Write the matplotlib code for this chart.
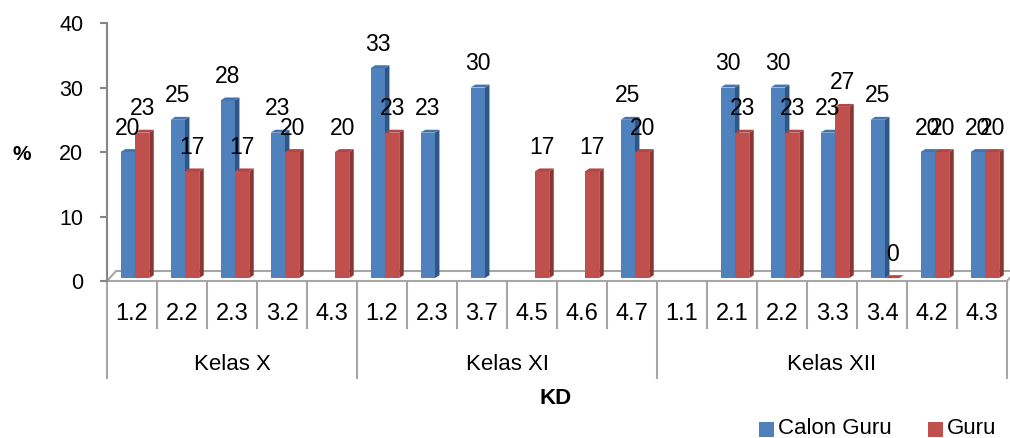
import numpy as np
import matplotlib
matplotlib.use("Agg")
import matplotlib.pyplot as plt
from matplotlib.patches import Polygon, Rectangle
from matplotlib.transforms import blended_transform_factory

plt.rcParams['font.family'] = ['Liberation Sans', 'DejaVu Sans']

nan = np.nan
kd_labels = ["1.2", "2.2", "2.3", "3.2", "4.3",
             "1.2", "2.3", "3.7", "4.5", "4.6", "4.7",
             "1.1", "2.1", "2.2", "3.3", "3.4", "4.2", "4.3"]
groups = ["Kelas X", "Kelas XI", "Kelas XII"]
group_sizes = [5, 6, 7]
calon_guru = [20, 25, 28, 23, nan, 33, 23, 30, nan, nan, 25, nan, 30, 30, 23, 25, 20, 20]
guru = [23, 17, 17, 20, 20, 23, nan, nan, 17, 17, 20, nan, 23, 23, 27, 0, 20, 20]
series_names = ["Calon Guru", "Guru"]

face_cols = ["#4F81BD", "#C0504D"]
side_cols = ["#2F5785", "#8A3634"]
top_cols = ["#4574AD", "#B04744"]

fig = plt.figure(figsize=(10.10, 4.38), dpi=100)
ax = fig.add_axes([107 / 1010, 1 - 281 / 438, 900 / 1010, 258 / 438])
n = len(kd_labels)
ax.set_xlim(-0.5, n - 0.5)
ax.set_ylim(0, 40)

base = 0.45
bw = 0.286
dx = 0.09
dy = 0.45
offsets = [-0.227, 0.059]

# floor
fdx, fdy = 0.18, 1.55
floor = Polygon([(-0.5, 0), (n - 0.5, 0), (n - 0.5 + fdx, fdy), (-0.5 + fdx, fdy)],
                closed=True, facecolor="white", edgecolor="#A6A6A6", lw=1.5,
                zorder=1, clip_on=False)
ax.add_patch(floor)

x = np.arange(n)
for s, vals in enumerate([calon_guru, guru]):
    vals = np.array(vals, dtype=float)
    left = x + offsets[s]
    heights = np.where(np.isnan(vals), np.nan, np.maximum(vals - base, 0))
    ax.bar(left, heights, width=bw, bottom=base, align="edge",
           color=face_cols[s], edgecolor="none", zorder=3 + s * 2)
    for i, v in enumerate(vals):
        if np.isnan(v):
            continue
        top = max(v, base)
        l, r = left[i], left[i] + bw
        side = Polygon([(r, base), (r + dx, base + dy), (r + dx, top + dy), (r, top)],
                       closed=True, facecolor=side_cols[s], edgecolor="none",
                       zorder=3 + s * 2)
        topp = Polygon([(l, top), (r, top), (r + dx, top + dy), (l + dx, top + dy)],
                       closed=True, facecolor=top_cols[s], edgecolor="none",
                       zorder=3 + s * 2)
        ax.add_patch(side)
        ax.add_patch(topp)
        ax.annotate(f"{v:.0f}", xy=(l + bw / 2, top), xytext=(0, 12.5),
                    textcoords="offset points", ha="center", va="baseline",
                    fontsize=16.5, color="black", zorder=10)

# axes styling
for sp in ["top", "right", "bottom"]:
    ax.spines[sp].set_visible(False)
ax.spines["left"].set_color("#868686")
ax.spines["left"].set_linewidth(1.5)
ax.set_yticks([0, 10, 20, 30, 40])
ax.tick_params(axis="y", colors="#868686", length=5, width=1.5, pad=12,
               labelsize=15.5, labelcolor="black")
ax.set_xticks([])

# category table
trans = blended_transform_factory(ax.transData, ax.transAxes)
for i, lab in enumerate(kd_labels):
    ax.text(i, -0.126, lab, transform=trans, ha="center", va="center",
            fontsize=17, clip_on=False)
bounds = np.cumsum([0] + group_sizes)
inner = [b for b in range(1, n) if b not in bounds]
for b in inner:
    ax.plot([b - 0.5, b - 0.5], [-0.004, -0.182], transform=trans,
            color="#A6A6A6", lw=1.5, clip_on=False)
for b in bounds:
    ax.plot([b - 0.5, b - 0.5], [-0.004, -0.376], transform=trans,
            color="#A6A6A6", lw=1.5, clip_on=False)
for g, name in enumerate(groups):
    c = (bounds[g] + bounds[g + 1] - 1) / 2
    ax.text(c, -0.322, name, transform=trans, ha="center", va="center",
            fontsize=16, clip_on=False)

fig.text(556 / 1010, 1 - 399 / 438, "KD", ha="center", va="center",
         fontsize=16, fontweight="bold")
fig.text(22 / 1010, 1 - 155 / 438, "%", ha="center", va="center",
         fontsize=15, fontweight="bold")

# legend
leg_items = [(759, 778, series_names[0], face_cols[0]),
             (928, 947, series_names[1], face_cols[1])]
for sx, tx, name, col in leg_items:
    fig.patches.append(Rectangle((sx / 1010, 1 - 437 / 438), 15 / 1010, 15 / 438,
                                 transform=fig.transFigure, facecolor=col,
                                 edgecolor="none"))
    fig.text(tx / 1010, 1 - 429 / 438, name, ha="left", va="center", fontsize=16)

fig.savefig("out.png", dpi=100)
